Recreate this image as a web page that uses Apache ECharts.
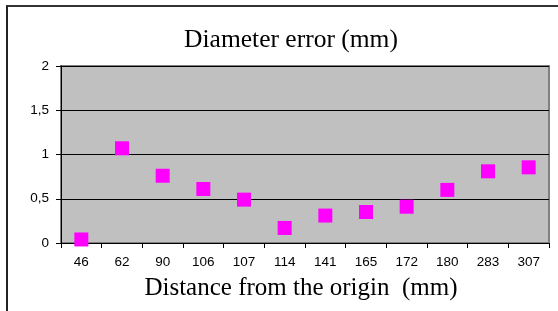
<!DOCTYPE html>
<html><head><meta charset="utf-8">
<script src="https://cdn.jsdelivr.net/npm/echarts@6/dist/echarts.min.js"></script>
<style>
html,body{margin:0;padding:0;background:#fff;}
#frame{position:absolute;left:6px;top:5px;width:560px;height:320px;border-left:2px solid #222;border-top:2px solid #333;box-sizing:border-box;}
#c{position:absolute;left:0;top:0;width:558px;height:311px;}
</style></head><body>
<div id="frame"></div>
<div id="c"></div>
<script>
const categories = ['46','62','90','106','107','114','141','165','172','180','283','307'];
const values = [0.04, 1.07, 0.76, 0.61, 0.49, 0.17, 0.31, 0.35, 0.41, 0.60, 0.81, 0.855];
const titleText = 'Diameter error (mm)';
const xAxisTitle = 'Distance from the origin  (mm)';

const chart = echarts.init(document.getElementById('c'), null, {renderer:'canvas'});
chart.setOption({
  animation:false,
  backgroundColor:'transparent',
  title:{text:titleText,left:286,top:22,textAlign:'center',
    textStyle:{fontFamily:'Liberation Serif',fontWeight:'normal',fontSize:25.5,color:'#000'}},
  grid:{left:61,right:9,top:66,bottom:68,show:true,backgroundColor:'#C0C0C0',borderColor:'#808080',borderWidth:2},
  xAxis:{type:'category',data:categories,boundaryGap:true,
    name:xAxisTitle,nameLocation:'middle',nameGap:33,
    nameTextStyle:{fontFamily:'Liberation Serif',fontSize:25,color:'#000',padding:[0,8,0,0]},
    axisLine:{lineStyle:{color:'#000',width:1}},
    axisTick:{show:true,length:5,lineStyle:{color:'#000'},alignWithLabel:false},
    axisLabel:{fontFamily:'Liberation Sans',fontSize:13.5,color:'#000',margin:12}},
  yAxis:{type:'value',min:0,max:2,interval:0.5,
    axisLine:{show:true,lineStyle:{color:'#000',width:1}},
    axisTick:{show:true,length:5,lineStyle:{color:'#000'}},
    splitLine:{show:true,lineStyle:{color:'#000',width:1}},
    axisLabel:{fontFamily:'Liberation Sans',fontSize:13.5,color:'#000',margin:12,
      formatter:v=>String(v).replace('.',',')}},
  series:[{type:'scatter',data:values,symbol:'rect',symbolSize:14,
    itemStyle:{color:'#FF00FF',opacity:1}}]
});
</script>
</body></html>
